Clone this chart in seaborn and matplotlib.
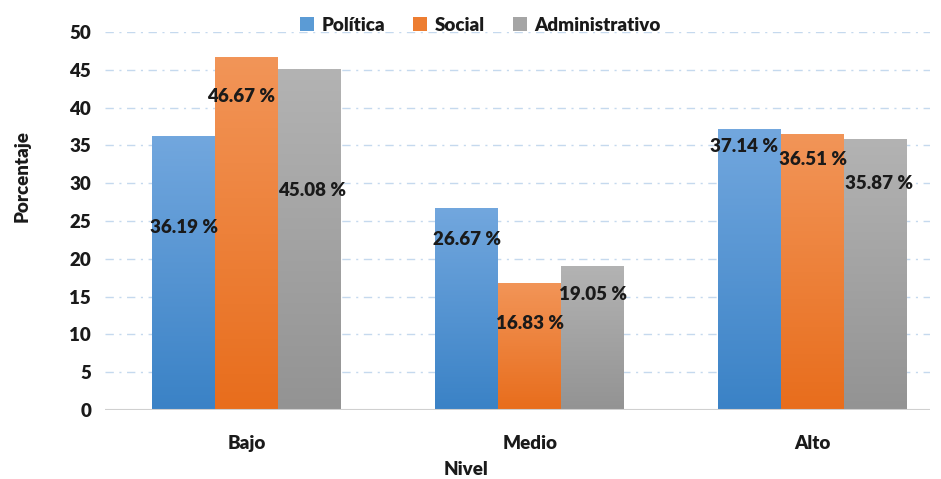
import numpy as np
import pandas as pd
import matplotlib.pyplot as plt
import seaborn as sns
from matplotlib.colors import LinearSegmentedColormap

# data
niveles = ['Bajo', 'Medio', 'Alto']
series = ['Política', 'Social', 'Administrativo']
politica = [36.19, 26.67, 37.14]
social = [46.67, 16.83, 36.51]
administrativo = [45.08, 19.05, 35.87]

# where the value labels sit (data units) - manual placement in the original
label_y = [[24.1, 22.5, 34.9], [41.5, 11.5, 33.2], [29.1, 15.3, 30.0]]
label_dx = [[0.0, 0.0, -0.02], [-0.02, 0.0, 0.0], [0.01, 0.0, 0.01]]

top_cols = ['#72a7de', '#f29558', '#b3b3b3']
bot_cols = ['#3a82c6', '#e86d1c', '#939393']
solid = ['#5b9bd5', '#ed7d31', '#a5a5a5']

df = pd.DataFrame({
    'Nivel': niveles * 3,
    'Serie': [s for s in series for _ in niveles],
    'Porcentaje': politica + social + administrativo,
})

sns.set_style('white')
plt.rcParams['font.family'] = ['Lato', 'DejaVu Sans']
FS = 13.5
WT = 'heavy'

fig = plt.figure(figsize=(9.41, 4.79), dpi=100)
ax = fig.add_axes([0.1116, 0.144, 0.877, 0.789])

sns.barplot(data=df, x='Nivel', y='Porcentaje', hue='Serie', order=niveles,
            hue_order=series, palette=solid, width=0.667, saturation=1,
            linewidth=0, ax=ax, legend=True)

ax.set_yticks(range(0, 51, 5))
for y in range(5, 51, 5):
    ax.axhline(y, color='#c5d9ee', lw=1, ls=(0, (6, 4, 1.5, 4)), zorder=0)
ax.axhline(0, color='#d0d0d0', lw=1.5, zorder=3)
sns.despine(ax=ax, left=True, bottom=True)

# gradient fill for each bar
for i, cont in enumerate(ax.containers):
    cmap = LinearSegmentedColormap.from_list('g%d' % i, [bot_cols[i], top_cols[i]])
    for j, bar in enumerate(cont):
        x0, w, h = bar.get_x(), bar.get_width(), bar.get_height()
        bar.set_facecolor('none')
        grad = np.linspace(0, 1, 256).reshape(-1, 1)
        im = ax.imshow(grad, cmap=cmap, origin='lower', aspect='auto',
                       extent=[x0, x0 + w, 0, h], zorder=2)
        im.set_clip_path(bar)
        ax.text(x0 + w / 2 + label_dx[i][j], label_y[i][j], f'{bar.get_height():.2f} %',
                ha='center', va='center', fontsize=FS, fontweight=WT,
                color='#1a1a1a', zorder=5)
ax.set_xlim(-0.5, 2.415)
ax.set_ylim(0, 50)

ax.tick_params(axis='x', length=0, labelsize=FS, pad=18)
ax.tick_params(axis='y', length=0, labelsize=FS, pad=10)
for t in ax.get_xticklabels() + ax.get_yticklabels():
    t.set_fontweight(WT)
    t.set_color('#1a1a1a')
ax.set_xlabel('Nivel', fontsize=FS, fontweight=WT, color='#1a1a1a')
ax.set_ylabel('Porcentaje', fontsize=FS, fontweight=WT, color='#1a1a1a')
ax.xaxis.set_label_coords(0.437, -0.135)
ax.yaxis.set_label_coords(-0.09, 0.62)

leg = ax.legend(loc='upper center', bbox_to_anchor=(0.455, 1.085), ncol=3,
                frameon=False, handlelength=0.75, handleheight=0.75,
                handletextpad=0.4, columnspacing=1.5,
                prop={'weight': WT, 'size': FS})
for t in leg.get_texts():
    t.set_color('#1a1a1a')

fig.savefig('out.png', dpi=100)
